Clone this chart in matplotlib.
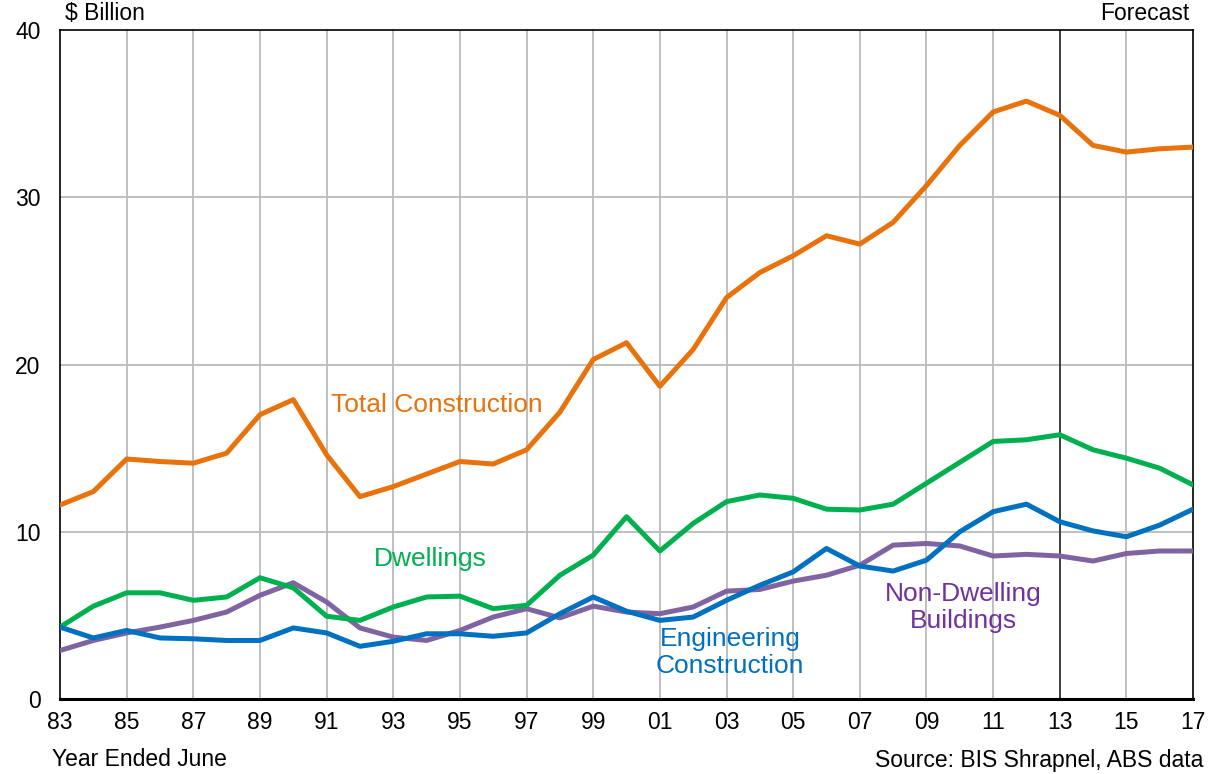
import numpy as np
import matplotlib.pyplot as plt

plt.rcParams['font.family'] = ['Liberation Sans', 'DejaVu Sans']

years = np.arange(1983, 2018)

# $ billion, year ended June (2014-2017 forecast)
total_construction = [11.6, 12.4, 14.35, 14.2, 14.1, 14.7, 17.0, 17.9, 14.6, 12.1,
                      12.7, 13.45, 14.2, 14.05, 14.9, 17.15, 20.3, 21.3, 18.7, 20.9,
                      24.0, 25.5, 26.5, 27.7, 27.2, 28.5, 30.7, 33.1, 35.1, 35.75,
                      34.9, 33.1, 32.7, 32.9, 33.0]
dwellings = [4.3, 5.55, 6.35, 6.35, 5.9, 6.1, 7.25, 6.65, 4.95, 4.7,
             5.5, 6.1, 6.15, 5.4, 5.6, 7.4, 8.6, 10.9, 8.85, 10.5,
             11.8, 12.2, 12.0, 11.35, 11.3, 11.65, 12.9, 14.15, 15.4, 15.5,
             15.8, 14.9, 14.4, 13.8, 12.8]
engineering = [4.3, 3.65, 4.1, 3.65, 3.6, 3.5, 3.5, 4.25, 3.95, 3.15,
               3.45, 3.9, 3.9, 3.75, 3.95, 5.1, 6.1, 5.25, 4.7, 4.9,
               5.9, 6.8, 7.6, 9.0, 7.95, 7.65, 8.3, 10.0, 11.2, 11.65,
               10.6, 10.05, 9.7, 10.4, 11.35]
non_dwelling = [2.9, 3.5, 3.95, 4.3, 4.7, 5.2, 6.2, 6.95, 5.8, 4.25,
                3.7, 3.5, 4.1, 4.9, 5.4, 4.85, 5.55, 5.2, 5.1, 5.5,
                6.45, 6.55, 7.05, 7.4, 8.0, 9.2, 9.3, 9.15, 8.55, 8.65,
                8.55, 8.25, 8.7, 8.85, 8.85]

tick_years = np.arange(1983, 2018, 2)
tick_labels = ["%02d" % (y % 100) for y in tick_years]
forecast_start = 2013

fig = plt.figure(figsize=(12.1, 7.74), dpi=100)
ax = fig.add_axes([0.0496, 0.0969, 0.9364, 0.8643])

# grid
for x in tick_years[1:-1]:
    ax.axvline(x, color="#BFBFBF", lw=1.4, zorder=1)
for y in [10, 20, 30]:
    ax.axhline(y, color="#BFBFBF", lw=1.4, zorder=1)
ax.axvline(forecast_start, color="#404040", lw=1.4, zorder=2)

lw = 3.6
ax.plot(years, total_construction, color="#E8720C", lw=lw, zorder=5)
ax.plot(years, dwellings, color="#00B050", lw=lw, zorder=4)
ax.plot(years, non_dwelling, color="#8064A2", lw=lw, zorder=3)
ax.plot(years, engineering, color="#0070C0", lw=lw, zorder=4)

ax.set_xlim(1983, 2017)
ax.set_ylim(0, 40)
ax.set_xticks(tick_years)
ax.set_xticklabels(tick_labels)
ax.set_yticks([0, 10, 20, 30, 40])
ax.tick_params(length=0, labelsize=16.5, pad=9)
ax.tick_params(axis="y", pad=14)

for side in ["top", "right", "left"]:
    ax.spines[side].set_linewidth(1.2)
ax.spines["bottom"].set_linewidth(2.2)

lab = 19
ax.text(1994.3, 17.6, "Total Construction", color="#E8720C", fontsize=lab,
        ha="center", va="center")
ax.text(1994.1, 8.35, "Dwellings", color="#00B050", fontsize=lab,
        ha="center", va="center")
ax.text(2003.1, 2.8, "Engineering\nConstruction", color="#0070C0", fontsize=lab,
        ha="center", va="center", linespacing=1.15)
ax.text(2010.1, 5.45, "Non-Dwelling\nBuildings", color="#7030A0", fontsize=lab,
        ha="center", va="center", linespacing=1.15)

fig.text(65 / 1210, 1 - 14 / 774, "$ Billion", fontsize=16.5, ha="left", va="center")
fig.text(1189 / 1210, 1 - 14 / 774, "Forecast", fontsize=16.5, ha="right", va="center")
fig.text(52 / 1210, 1 - 760 / 774, "Year Ended June", fontsize=16.5, ha="left", va="center")
fig.text(1203 / 1210, 1 - 760 / 774, "Source: BIS Shrapnel, ABS data", fontsize=16.5,
         ha="right", va="center")

fig.savefig("out.png", dpi=100)
